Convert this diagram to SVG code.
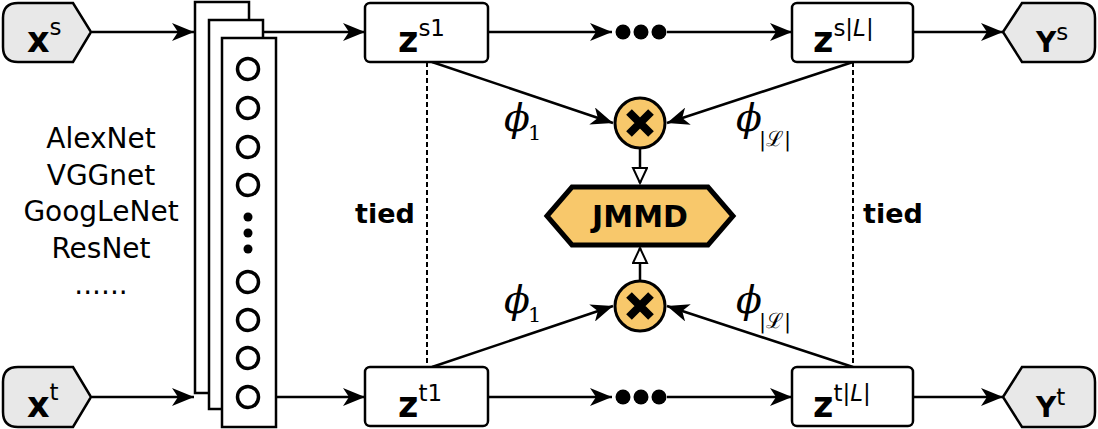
<svg xmlns="http://www.w3.org/2000/svg" width="1098" height="429" viewBox="0 0 1098 429">
<style>
.io{fill:#e8e8e8;stroke:#000;stroke-width:2.5}
.box{fill:#fff;stroke:#000;stroke-width:2.5}
.layer{fill:#fff;stroke:#000;stroke-width:2.5}
.neur{fill:#fff;stroke:#000;stroke-width:3.5}
.gold{fill:#f8c86b;stroke:#000}
.ln{fill:none;stroke:#000;stroke-width:2.5}
.dash{fill:none;stroke:#000;stroke-width:2;stroke-dasharray:5 3}
.big{font-family:"DejaVu Sans",sans-serif;font-weight:bold;fill:#000}
.sup{font-family:"DejaVu Sans",sans-serif;font-weight:normal;font-size:23px}
.lbl{font-family:"DejaVu Sans",sans-serif;font-size:28px;fill:#000;text-anchor:middle}
.phi{font-family:"DejaVu Serif","Liberation Serif",serif;font-style:italic;font-size:38px;fill:#000}
.sub{font-family:"DejaVu Serif","Liberation Serif",serif;font-style:normal;font-size:21px}
</style>
<defs>
<marker id="arr" markerUnits="userSpaceOnUse" markerWidth="24" markerHeight="18" refX="22" refY="9" orient="auto">
<path d="M0,0 L22,9 L0,18 L6,9 Z" fill="#000"/>
</marker>
<marker id="tri" markerUnits="userSpaceOnUse" markerWidth="18" markerHeight="22" refX="16" refY="8" orient="auto">
<path d="M1,1 L16,8 L1,15 Z" fill="#fff" stroke="#000" stroke-width="2"/>
</marker>
</defs>

<g id="connectors">
<line class="ln" x1="92" y1="32" x2="194" y2="32" marker-end="url(#arr)"/>
<line class="ln" x1="92" y1="397" x2="194" y2="397" marker-end="url(#arr)"/>
<line class="ln" x1="263" y1="32" x2="365" y2="32" marker-end="url(#arr)"/>
<line class="ln" x1="276" y1="397" x2="365" y2="397" marker-end="url(#arr)"/>
<line class="ln" x1="488" y1="32" x2="612" y2="32" marker-end="url(#arr)"/>
<line class="ln" x1="488" y1="397" x2="612" y2="397" marker-end="url(#arr)"/>
<line class="ln" x1="667" y1="32" x2="792" y2="32" marker-end="url(#arr)"/>
<line class="ln" x1="667" y1="397" x2="792" y2="397" marker-end="url(#arr)"/>
<line class="ln" x1="913" y1="32" x2="1003" y2="32" marker-end="url(#arr)"/>
<line class="ln" x1="913" y1="397" x2="1003" y2="397" marker-end="url(#arr)"/>
<line class="ln" x1="432" y1="62" x2="613" y2="123" marker-end="url(#arr)"/>
<line class="ln" x1="853" y1="62" x2="667" y2="123" marker-end="url(#arr)"/>
<line class="ln" x1="432" y1="367" x2="613" y2="306" marker-end="url(#arr)"/>
<line class="ln" x1="853" y1="367" x2="667" y2="306" marker-end="url(#arr)"/>
<line class="ln" x1="640" y1="148" x2="640" y2="183" stroke-width="2" marker-end="url(#tri)"/>
<line class="ln" x1="640" y1="281" x2="640" y2="248" stroke-width="2" marker-end="url(#tri)"/>
<line class="dash" x1="427" y1="62" x2="427" y2="367"/>
<line class="dash" x1="853" y1="62" x2="853" y2="367"/>
<circle cx="623" cy="32" r="7.5"/>
<circle cx="641" cy="32" r="7.5"/>
<circle cx="659" cy="32" r="7.5"/>
<circle cx="623" cy="397" r="7.5"/>
<circle cx="641" cy="397" r="7.5"/>
<circle cx="659" cy="397" r="7.5"/>
<text class="phi" x="504" y="131">ϕ<tspan class="sub" dx="-2" dy="9">1</tspan></text>
<text class="phi" x="736" y="131">ϕ<tspan class="sub" dx="-3" dy="15">|ℒ|</tspan></text>
<text class="phi" x="504" y="313">ϕ<tspan class="sub" dx="-2" dy="9">1</tspan></text>
<text class="phi" x="736" y="313">ϕ<tspan class="sub" dx="-3" dy="15">|ℒ|</tspan></text>
<text class="big" x="385" y="223" font-size="27" text-anchor="middle">tied</text>
<text class="big" x="893" y="223" font-size="27" text-anchor="middle">tied</text>
</g>

<g id="xs">
<path class="io" d="M18,3 H73 L91,32 L73,62 H18 Q3,62 3,47 V18 Q3,3 18,3 Z"/>
<text class="big" x="27" y="52" font-size="35">x<tspan class="sup" dy="-17">s</tspan></text>
</g>
<g id="xt">
<path class="io" d="M18,367 H73 L91,397 L73,427 H18 Q3,427 3,412 V382 Q3,367 18,367 Z"/>
<text class="big" x="27" y="417" font-size="35">x<tspan class="sup" dy="-17">t</tspan></text>
</g>

<g id="labels">
<text class="lbl" x="101" y="148">AlexNet</text>
<text class="lbl" x="101" y="185">VGGnet</text>
<text class="lbl" x="101" y="221">GoogLeNet</text>
<text class="lbl" x="101" y="258">ResNet</text>
<text class="lbl" x="101" y="294">......</text>
</g>

<g id="cnn">
<rect class="layer" x="195" y="2" width="54" height="391"/>
<rect class="layer" x="209" y="20" width="54" height="389"/>
<rect class="layer" x="222" y="38" width="54" height="389"/>
<circle class="neur" cx="248" cy="69" r="10.5"/>
<circle class="neur" cx="248" cy="108" r="10.5"/>
<circle class="neur" cx="248" cy="147" r="10.5"/>
<circle class="neur" cx="248" cy="185" r="10.5"/>
<circle cx="248" cy="217" r="4.5"/>
<circle cx="248" cy="233" r="4.5"/>
<circle cx="248" cy="249" r="4.5"/>
<circle class="neur" cx="248" cy="282" r="10.5"/>
<circle class="neur" cx="248" cy="320" r="10.5"/>
<circle class="neur" cx="248" cy="358" r="10.5"/>
<circle class="neur" cx="248" cy="397" r="10.5"/>
</g>

<g id="zs1">
<rect class="box" x="365" y="3" width="123" height="59" rx="5"/>
<text class="big" x="398" y="52" font-size="35">z<tspan class="sup" dy="-16">s1</tspan></text>
</g>
<g id="zsL">
<rect class="box" x="792" y="3" width="121" height="59" rx="5"/>
<text class="big" x="813" y="52" font-size="35">z<tspan class="sup" dy="-16">s|<tspan font-style="italic">L</tspan>|</tspan></text>
</g>
<g id="zt1">
<rect class="box" x="365" y="367" width="123" height="59" rx="5"/>
<text class="big" x="398" y="417" font-size="35">z<tspan class="sup" dy="-16">t1</tspan></text>
</g>
<g id="ztL">
<rect class="box" x="792" y="367" width="121" height="59" rx="5"/>
<text class="big" x="813" y="417" font-size="35">z<tspan class="sup" dy="-16">t|<tspan font-style="italic">L</tspan>|</tspan></text>
</g>

<g id="ys">
<path class="io" d="M1003,32 L1022,3 H1080 Q1095,3 1095,18 V47 Q1095,62 1080,62 H1022 Z"/>
<text class="big" x="1036" y="52" font-size="28">Y<tspan class="sup" dy="-12">s</tspan></text>
</g>
<g id="yt">
<path class="io" d="M1003,397 L1022,367 H1080 Q1095,367 1095,382 V412 Q1095,427 1080,427 H1022 Z"/>
<text class="big" x="1036" y="417" font-size="28">Y<tspan class="sup" dy="-12">t</tspan></text>
</g>

<g id="mul_s">
<circle class="gold" cx="640" cy="123" r="25" stroke-width="3"/>
<path d="M629,112 L651,134 M651,112 L629,134" stroke="#000" stroke-width="8" stroke-linecap="butt"/>
</g>
<g id="mul_t">
<circle class="gold" cx="640" cy="306" r="25" stroke-width="3"/>
<path d="M629,295 L651,317 M651,295 L629,317" stroke="#000" stroke-width="8" stroke-linecap="butt"/>
</g>

<g id="jmmd">
<path class="gold" stroke-width="5" d="M547,216 L572,187 H708 L733,216 L708,245 H572 Z"/>
<text class="big" x="640" y="227" font-size="30" text-anchor="middle">JMMD</text>
</g>
</svg>
